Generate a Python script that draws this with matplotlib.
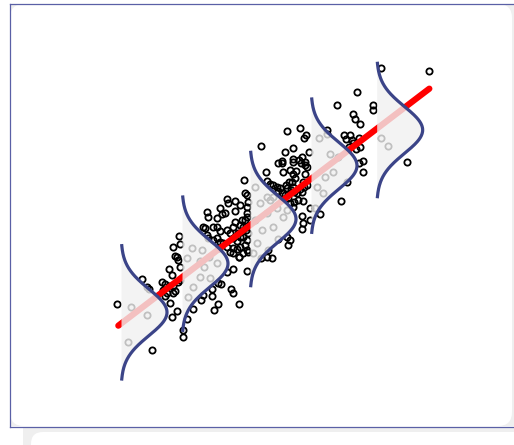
import numpy as np
import matplotlib
matplotlib.use("Agg")
import matplotlib.pyplot as plt
from matplotlib.patches import FancyBboxPatch, Rectangle
from matplotlib.lines import Line2D
from matplotlib.transforms import IdentityTransform

# scatter points (x, y)
pts_x = [79.3, 93.6, 72.2, 66.0, 76.8, 76.8, 71.0, 71.4, 73.0, 51.2, 55.1, 56.7, 56.2, 63.1, 63.2,
         68.1, 70.0, 72.6, 70.6, 71.0, 69.8, 43.4, 53.0, 71.8, 73.0, 87.2, 74.0, 72.6, 74.0, 69.0,
         67.2, 61.0, 68.8,
         50.5, 57.6, 53.0, 53.0, 55.6, 54.8, 56.6, 56.6, 57.1, 55.3, 48.5, 49.5, 49.6, 52.0, 53.9,
         53.0, 56.6, 44.7, 50.0, 53.5, 52.5, 51.6, 50.7, 51.0, 53.0, 52.3, 53.2, 54.0, 55.0, 55.5,
         56.2, 57.0, 55.8, 45.0, 46.0, 47.0, 48.0, 49.0, 45.0, 46.0, 47.0, 48.3, 49.5, 50.5, 51.5,
         53.2, 54.5, 55.8, 52.0, 53.0, 51.0, 55.5, 56.0, 55.5, 58.0, 58.0, 51.0, 52.0, 51.5, 48.5,
         45.3, 43.3, 45.0, 46.5, 39.2, 38.3, 38.5, 39.1, 39.5, 39.0, 39.2, 39.0, 38.5, 37.5, 37.0,
         38.0, 38.8, 39.5, 38.0, 39.0, 38.5, 39.0, 36.6, 35.0,
         41.5, 43.0, 45.0, 48.0, 41.5, 43.5, 42.0, 47.0, 50.0, 41.0,
         60.8, 64.0, 66.5, 65.0, 62.5, 60.0, 62.0, 59.5, 79.3, 81.5,
         33.0, 33.4, 35.4, 37.0, 35.4, 31.0, 27.0, 27.5, 30.0, 31.5, 32.5, 26.0, 26.5, 29.0, 30.0,
         31.0, 33.0, 35.0, 35.5, 34.0, 36.5, 37.0, 35.0, 36.2, 27.0, 27.5, 29.0, 30.0, 31.0, 32.0,
         33.0, 35.0, 36.0, 37.0, 35.0, 34.0, 30.6, 33.0, 36.7, 38.0, 39.3,
         18.6, 17.0, 19.0, 17.5, 18.0, 18.5, 19.0, 15.7, 16.5, 7.5, 13.5, 14.6, 15.6, 17.0, 18.5,
         19.0, 14.0, 15.2, 16.8, 14.5, 17.5, 16.1, 18.2, 16.5, 21.2, 19.8, 19.8, 22.8, 25.3, 26.0,
         28.5, 28.7, 30.5, 31.2, 34.2, 35.0, 36.6, 30.3, 29.1, 0.2, 10.7, 9.2, 9.6,
         22.5, 25.5, 21.2, 25.0, 27.8, 30.0, 26.2, 25.0, 28.0, 23.0, 21.5,
         4.3, 9.0, 3.5]
pts_y = [77.5, 76.7, 70.3, 66.6, 66.6, 65.0, 63.7, 62.4, 60.7, 58.6, 59.6, 57.4, 56.6, 59.0, 57.7,
         57.4, 57.4, 56.6, 56.0, 55.0, 54.0, 54.1, 53.7, 53.3, 54.0, 49.4, 49.8, 49.0, 46.4, 43.4,
         37.7, 33.9, 56.4,
         52.3, 52.4, 50.4, 49.5, 51.0, 50.0, 49.4, 48.6, 48.0, 49.0, 49.0, 49.0, 49.8, 47.0, 46.8,
         45.7, 45.8, 46.4, 46.4, 44.5, 43.5, 43.5, 42.5, 41.5, 42.0, 41.0, 40.5, 40.0, 41.4, 40.5,
         42.0, 42.5, 43.5, 43.8, 42.8, 42.5, 42.0, 41.5, 39.0, 38.0, 38.8, 40.8, 40.2, 39.5, 38.5,
         37.5, 38.0, 37.8, 37.0, 36.0, 35.0, 33.2, 31.2, 29.3, 32.0, 35.5, 26.8, 26.0, 24.5, 26.2,
         23.0, 20.5, 20.8, 20.5, 16.7, 44.0, 40.2, 39.4, 37.5, 36.0, 34.0, 33.0, 32.0, 32.0, 30.5,
         30.0, 29.0, 28.0, 27.0, 26.0, 24.5, 23.0, 21.0, 17.2,
         42.0, 37.0, 34.0, 35.5, 32.0, 29.0, 25.0, 30.0, 33.0, 22.0,
         56.5, 51.8, 51.0, 46.5, 45.0, 42.0, 40.0, 35.5, 56.7, 54.3,
         38.3, 37.2, 37.7, 36.4, 34.7, 35.5, 34.4, 33.0, 32.5, 33.8, 34.0, 30.0, 29.6, 30.0, 30.0,
         28.8, 29.0, 30.0, 31.5, 28.0, 28.0, 27.0, 26.5, 25.8, 27.5, 26.5, 26.0, 26.5, 25.5, 25.0,
         24.0, 23.5, 23.2, 24.0, 22.0, 22.5, 23.5, 16.5, 21.0, 22.2, 22.5,
         27.3, 23.8, 24.7, 21.2, 20.8, 20.0, 18.0, 17.2, 15.5, 14.2, 13.3, 12.8, 12.2, 12.2, 13.3,
         14.0, 11.0, 10.0, 10.0, 9.3, 10.8, 7.0, 4.6, 2.8, 2.4, -0.9, -3.0, 5.3, 8.0, 9.5,
         9.2, 11.4, 13.2, 12.8, 11.4, 10.0, 6.7, 6.7, 5.0, 6.7, -7.0, 11.8, 11.4,
         23.5, 23.0, 20.5, 19.8, 20.8, 19.0, 18.0, 15.0, 14.5, 11.8, 9.0,
         6.0, 3.5, -4.5]

# fitted regression line end points
line_x = [0.5, 93.8]
line_y = [0.3, 71.4]

# conditional normal curves: base x, centre y
curve_base = [1.3, 19.6, 40.0, 58.3, 78.0]
curve_mid = [4.3, 18.9, 32.3, 48.3, 59.0]
sigma = 7.0
half_span = 20.0
peak = 13.8

W, H = 514, 445
fig = plt.figure(figsize=(W / 100, H / 100), dpi=100)
fig.patch.set_facecolor("white")

# page decorations in pixel units (origin top-left converted to bottom-left)
px = IdentityTransform()

def box(x0, y0, x1, y1, color, r=0.0, z=0):
    if r > 0:
        p = FancyBboxPatch((x0, H - y1), x1 - x0, y1 - y0,
                           boxstyle="round,pad=0,rounding_size=%g" % r,
                           transform=px, facecolor=color, edgecolor="none", zorder=z)
    else:
        p = Rectangle((x0, H - y1), x1 - x0, y1 - y0, transform=px,
                      facecolor=color, edgecolor="none", zorder=z)
    fig.patches.append(p)

box(10, 4, W, 426, "#efefef", z=0)
box(10, 4, 512, 426, "white", r=14, z=0.1)
box(23, 427, W, H, "#efefef", z=0)
box(31, 432, W + 40, H + 30, "white", r=12, z=0.1)

frame_col = "#5a60a6"
for xs, ys in [([9.5, 9.5], [3.5, 426.5]), ([9.5, W], [3.5, 3.5]), ([9.5, W], [426.5, 426.5])]:
    fig.lines.append(Line2D(xs, [H - v for v in ys], transform=px, color=frame_col,
                            lw=0.9, zorder=0.2))

ax = fig.add_axes([0, 0, 1, 1])
ax.set_zorder(2)
ax.patch.set_alpha(0)
ax.set_xlim(-35, 119.2)
ax.set_ylim(-35.5, 98.0)
ax.axis("off")

ax.plot(pts_x, pts_y, "o", ms=4.5, mfc="none", mec="black", mew=1.3, zorder=2)
ax.plot(line_x, line_y, color="red", lw=4.5, solid_capstyle="round", zorder=2.5)

for b, m in zip(curve_base, curve_mid):
    yy = np.linspace(m - half_span, m + half_span, 200)
    dens = np.exp(-0.5 * ((yy - m) / sigma) ** 2)
    xx = b + peak * dens
    ax.fill_betweenx(yy, b, xx, color="#f1f1f1", alpha=0.8, lw=0, zorder=3)
    ax.plot(xx, yy, color="#3b4488", lw=2.3, zorder=4)

fig.savefig("out.png", dpi=100)
